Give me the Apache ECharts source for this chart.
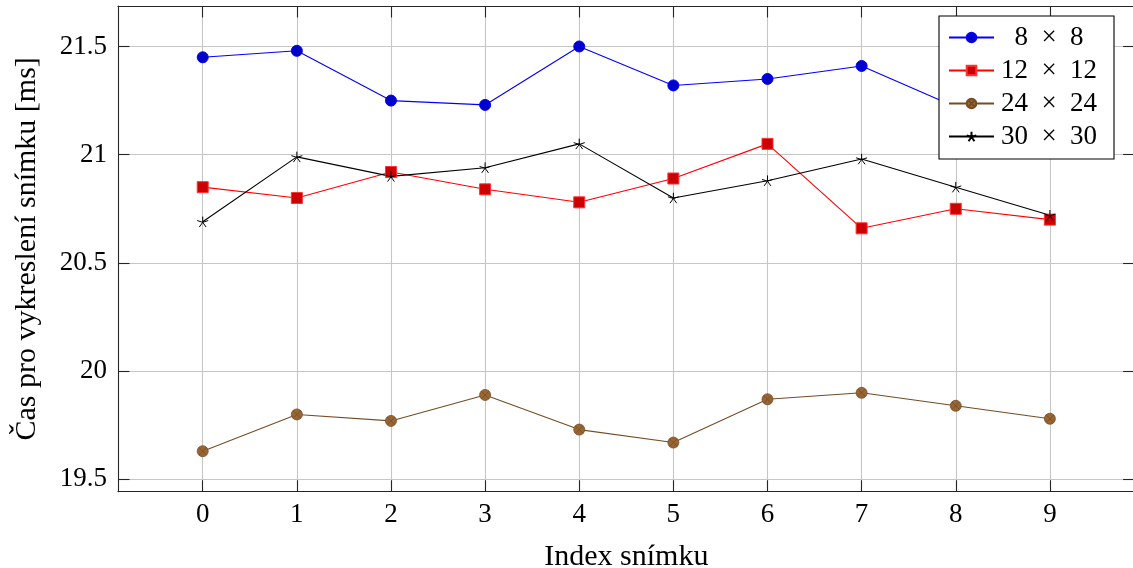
<!DOCTYPE html>
<html>
<head>
<meta charset="utf-8">
<script src="https://cdn.jsdelivr.net/npm/echarts@6/dist/echarts.min.js"></script>
<style>html,body{margin:0;padding:0;background:#fff;}#c{width:1133px;height:568px;}</style>
</head>
<body>
<div id="c"></div>
<script>
const frameIndex = [0, 1, 2, 3, 4, 5, 6, 7, 8, 9];
const xTicks = [0, 1, 2, 3, 4, 5, 6, 7, 8, 9];
const yTicks = [19.5, 20, 20.5, 21, 21.5];
const names = ['8 × 8', '12 × 12', '24 × 24', '30 × 30'];
const s8 = [21.45, 21.48, 21.25, 21.23, 21.50, 21.32, 21.35, 21.41, 21.22, 21.25];
const s12 = [20.85, 20.80, 20.92, 20.84, 20.78, 20.89, 21.05, 20.66, 20.75, 20.70];
const s24 = [19.63, 19.80, 19.77, 19.89, 19.73, 19.67, 19.87, 19.90, 19.84, 19.78];
const s30 = [20.69, 20.99, 20.90, 20.94, 21.05, 20.80, 20.88, 20.98, 20.85, 20.72];

const FONT = 'Liberation Serif';
const pairs = v => frameIndex.map((x, i) => [x, v[i]]);
const STAR = 'path://M0 0 L0 -10 M0 0 L9.51 -3.09 M0 0 L5.88 8.09 M0 0 L-5.88 8.09 M0 0 L-9.51 -3.09';
const OTIMES = 'path://M10 0 A10 10 0 1 1 -10 0 A10 10 0 1 1 10 0 Z M-7.07 -7.07 L7.07 7.07 M7.07 -7.07 L-7.07 7.07';

const gridColor = '#c6c6c6';
const axisColor = '#262626';
const xMin = -0.9, xMax = 9.9, yMin = 19.443, yMax = 21.687;

const chart = echarts.init(document.getElementById('c'), null, {renderer: 'canvas'});
chart.setOption({
  animation: false,
  backgroundColor: '#fff',
  grid: {left: 118, top: 6, right: -1.6, bottom: 76.3, containLabel: false, outerBoundsMode: 'none'},
  xAxis: [{
    type: 'value', min: xMin, max: xMax, position: 'bottom',
    name: 'Index snímku', nameLocation: 'middle', nameGap: 50,
    nameTextStyle: {fontFamily: FONT, fontSize: 30, color: '#000'},
    axisLine: {show: true, onZero: false, lineStyle: {color: axisColor, width: 1.1}},
    axisTick: {show: true, inside: true, length: 11.5, customValues: xTicks, lineStyle: {color: axisColor, width: 1.1}},
    axisLabel: {customValues: xTicks, fontFamily: FONT, fontSize: 27, color: '#000', margin: 10},
    splitLine: {show: true, lineStyle: {color: gridColor, width: 1.1}}
  }, {
    type: 'value', min: xMin, max: xMax, position: 'top',
    axisLine: {show: true, onZero: false, lineStyle: {color: axisColor, width: 1.1}},
    axisTick: {show: true, inside: true, length: 11.5, customValues: xTicks, lineStyle: {color: axisColor, width: 1.1}},
    axisLabel: {show: false, customValues: xTicks},
    splitLine: {show: false}
  }],
  yAxis: [{
    type: 'value', min: yMin, max: yMax, position: 'left',
    name: 'Čas pro vykreslení snímku [ms]', nameLocation: 'middle', nameGap: 76,
    nameTextStyle: {fontFamily: FONT, fontSize: 30, color: '#000'},
    axisLine: {show: true, onZero: false, lineStyle: {color: axisColor, width: 1.1}},
    axisTick: {show: true, inside: true, length: 11.5, customValues: yTicks, lineStyle: {color: axisColor, width: 1.1}},
    axisLabel: {customValues: yTicks, fontFamily: FONT, fontSize: 27, color: '#000', margin: 11},
    splitLine: {show: true, lineStyle: {color: gridColor, width: 1.1}}
  }, {
    type: 'value', min: yMin, max: yMax, position: 'right',
    axisLine: {show: false, onZero: false},
    axisTick: {show: true, inside: true, length: 11.5, customValues: yTicks, lineStyle: {color: axisColor, width: 1.1}},
    axisLabel: {show: false, customValues: yTicks},
    splitLine: {show: false}
  }],
  legend: {
    orient: 'vertical', left: 939, top: 16,
    padding: [8, 15, 9, 9], itemGap: 6, itemWidth: 45, itemHeight: 12,
    backgroundColor: '#fff', borderColor: '#000', borderWidth: 1.1, borderRadius: 0,
    data: names,
    formatter: n => '{t|' + n.replace(' × ', '  ×  ') + '}',
    textStyle: {fontFamily: FONT, fontSize: 27, color: '#000',
      rich: {t: {width: 100, align: 'center', fontFamily: FONT, fontSize: 27, lineHeight: 27, color: '#000'}}}
  },
  series: [
    {name: names[0], type: 'line', data: pairs(s8), symbol: 'circle', symbolSize: 11,
     lineStyle: {color: '#0000ff', width: 1.1}, itemStyle: {color: '#0000cc', borderColor: '#0000ff', borderWidth: 1}},
    {name: names[1], type: 'line', data: pairs(s12), symbol: 'rect', symbolSize: 11,
     lineStyle: {color: '#ff0000', width: 1.1}, itemStyle: {color: '#cc0000', borderColor: '#ff3333', borderWidth: 1}},
    {name: names[2], type: 'line', data: pairs(s24), symbol: OTIMES, symbolSize: 11, symbolKeepAspect: true,
     lineStyle: {color: '#734d26', width: 1.1}, itemStyle: {color: '#996633', borderColor: '#734d26', borderWidth: 0.8}},
    {name: names[3], type: 'line', data: pairs(s30), symbol: STAR, symbolSize: 11, symbolKeepAspect: true,
     lineStyle: {color: '#000', width: 1.1}, itemStyle: {color: 'rgba(0,0,0,0)', borderColor: '#000', borderWidth: 1}}
  ]
});
</script>
</body>
</html>
